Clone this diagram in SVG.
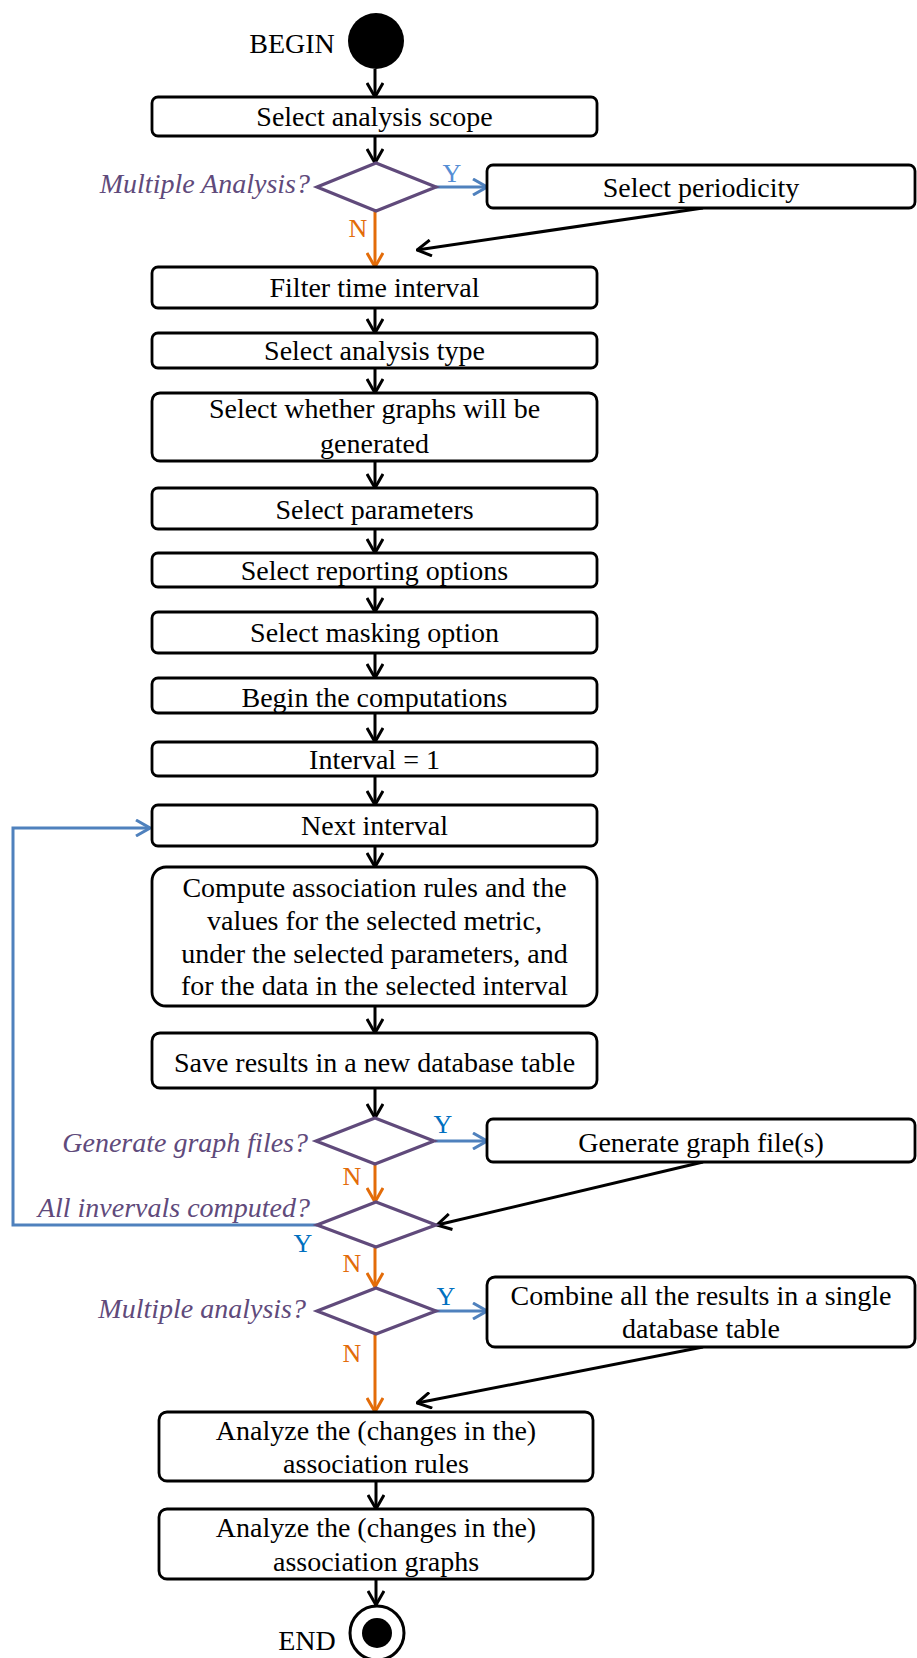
<svg xmlns="http://www.w3.org/2000/svg" width="917" height="1658" viewBox="0 0 917 1658">
<style>
.box{fill:#fff;stroke:#000;stroke-width:2.8}
.dia{fill:#fff;stroke:#604A7B;stroke-width:3.2}
.t{font-family:"Liberation Serif","Times New Roman",serif;font-size:28px;fill:#000;text-anchor:middle}
.q{font-family:"Liberation Serif","Times New Roman",serif;font-size:28px;font-style:italic;fill:#604A7B;text-anchor:end}
.yn{font-family:"Liberation Serif","Times New Roman",serif;font-size:26px;text-anchor:middle}
.blk{stroke:#000;stroke-width:3;fill:none;marker-end:url(#ak)}
.blu{stroke:#4F81BD;stroke-width:3;fill:none;marker-end:url(#ab)}
.org{stroke:#E36C09;stroke-width:3;fill:none;marker-end:url(#ao)}
</style>
<defs>
<marker id="ak" viewBox="0 0 16 18" refX="15" refY="9" markerWidth="16" markerHeight="18" markerUnits="userSpaceOnUse" orient="auto"><path d="M1,1 L15,9 L1,17" fill="none" stroke="#000" stroke-width="3"/></marker>
<marker id="ab" viewBox="0 0 16 18" refX="15" refY="9" markerWidth="16" markerHeight="18" markerUnits="userSpaceOnUse" orient="auto"><path d="M1,1 L15,9 L1,17" fill="none" stroke="#4F81BD" stroke-width="3"/></marker>
<marker id="ao" viewBox="0 0 16 18" refX="15" refY="9" markerWidth="16" markerHeight="18" markerUnits="userSpaceOnUse" orient="auto"><path d="M1,1 L15,9 L1,17" fill="none" stroke="#E36C09" stroke-width="3"/></marker>
</defs>
<rect width="917" height="1658" fill="#fff"/>

<g id="connectors">
<line class="blk" x1="375" y1="69" x2="375" y2="97"/>
<line class="blk" x1="375" y1="136" x2="375" y2="163"/>
<line class="blu" x1="436" y1="187" x2="487" y2="187"/>
<line class="org" x1="375" y1="211" x2="375" y2="267"/>
<line class="blk" x1="703" y1="208" x2="417" y2="250"/>
<line class="blk" x1="375" y1="308" x2="375" y2="333"/>
<line class="blk" x1="375" y1="368" x2="375" y2="393"/>
<line class="blk" x1="375" y1="461" x2="375" y2="488"/>
<line class="blk" x1="375" y1="529" x2="375" y2="553"/>
<line class="blk" x1="375" y1="587" x2="375" y2="612"/>
<line class="blk" x1="375" y1="653" x2="375" y2="678"/>
<line class="blk" x1="375" y1="713" x2="375" y2="742"/>
<line class="blk" x1="375" y1="776" x2="375" y2="805"/>
<line class="blk" x1="375" y1="846" x2="375" y2="867"/>
<line class="blk" x1="375" y1="1006" x2="375" y2="1033"/>
<line class="blk" x1="375" y1="1088" x2="375" y2="1118"/>
<line class="blu" x1="435" y1="1141" x2="487" y2="1141"/>
<line class="org" x1="375" y1="1164" x2="375" y2="1202"/>
<line class="blk" x1="703" y1="1162" x2="437" y2="1225"/>
<path class="blu" d="M317,1225 H13 V828 H150"/>
<line class="org" x1="375" y1="1247" x2="375" y2="1287"/>
<line class="blu" x1="435" y1="1311" x2="487" y2="1311"/>
<line class="org" x1="375" y1="1334" x2="375" y2="1412"/>
<line class="blk" x1="703" y1="1347" x2="417" y2="1403"/>
<line class="blk" x1="376" y1="1481" x2="376" y2="1509"/>
<line class="blk" x1="376" y1="1579" x2="376" y2="1605"/>
<text class="yn" x="452" y="182" fill="#558ED5">Y</text>
<text class="yn" x="358" y="237" fill="#E36C09">N</text>
<text class="yn" x="443" y="1133" fill="#0070C0">Y</text>
<text class="yn" x="352" y="1185" fill="#E36C09">N</text>
<text class="yn" x="303" y="1252" fill="#0070C0">Y</text>
<text class="yn" x="352" y="1272" fill="#E36C09">N</text>
<text class="yn" x="446" y="1305" fill="#0070C0">Y</text>
<text class="yn" x="352" y="1362" fill="#E36C09">N</text>
</g>

<g id="begin">
<circle cx="376" cy="41" r="28" fill="#000"/>
<text class="t" x="292" y="53" font-size="27">BEGIN</text>
</g>

<g id="n1"><rect class="box" x="152" y="97" width="445" height="39" rx="6"/><text class="t" x="374.5" y="126">Select analysis scope</text></g>

<g id="d1"><polygon class="dia" points="376,163 436,187 376,211 317,187"/><text class="q" x="310" y="193">Multiple Analysis?</text></g>

<g id="n_period"><rect class="box" x="487" y="165" width="428" height="43" rx="6"/><text class="t" x="701" y="197">Select periodicity</text></g>

<g id="n2"><rect class="box" x="152" y="267" width="445" height="41" rx="6"/><text class="t" x="374.5" y="297">Filter time interval</text></g>
<g id="n3"><rect class="box" x="152" y="333" width="445" height="35" rx="6"/><text class="t" x="374.5" y="360">Select analysis type</text></g>
<g id="n4"><rect class="box" x="152" y="393" width="445" height="68" rx="8"/><text class="t" x="374.5" y="418">Select whether graphs will be</text><text class="t" x="374.5" y="453">generated</text></g>
<g id="n5"><rect class="box" x="152" y="488" width="445" height="41" rx="6"/><text class="t" x="374.5" y="519">Select parameters</text></g>
<g id="n6"><rect class="box" x="152" y="553" width="445" height="34" rx="6"/><text class="t" x="374.5" y="580">Select reporting options</text></g>
<g id="n7"><rect class="box" x="152" y="612" width="445" height="41" rx="6"/><text class="t" x="374.5" y="642">Select masking option</text></g>
<g id="n8"><rect class="box" x="152" y="678" width="445" height="35" rx="6"/><text class="t" x="374.5" y="707">Begin the computations</text></g>
<g id="n9"><rect class="box" x="152" y="742" width="445" height="34" rx="6"/><text class="t" x="374.5" y="769">Interval = 1</text></g>
<g id="n10"><rect class="box" x="152" y="805" width="445" height="41" rx="6"/><text class="t" x="374.5" y="835">Next interval</text></g>
<g id="n11"><rect class="box" x="152" y="867" width="445" height="139" rx="14"/>
<text class="t" x="374.5" y="897">Compute association rules and the</text>
<text class="t" x="374.5" y="930">values for the selected metric,</text>
<text class="t" x="374.5" y="963">under the selected parameters, and</text>
<text class="t" x="374.5" y="995">for the data in the selected interval</text></g>
<g id="n12"><rect class="box" x="152" y="1033" width="445" height="55" rx="8"/><text class="t" x="374.5" y="1072">Save results in a new database table</text></g>

<g id="d2"><polygon class="dia" points="375,1118 434,1141 375,1164 316,1141"/><text class="q" x="308" y="1152">Generate graph files?</text></g>
<g id="n_gen"><rect class="box" x="487" y="1119" width="428" height="43" rx="6"/><text class="t" x="701" y="1152">Generate graph file(s)</text></g>

<g id="d3"><polygon class="dia" points="376,1202 436,1225 376,1247 317,1225"/><text class="q" x="310" y="1217">All invervals computed?</text></g>

<g id="d4"><polygon class="dia" points="376,1288 436,1311 376,1334 317,1311"/><text class="q" x="306" y="1318">Multiple analysis?</text></g>
<g id="n_comb"><rect class="box" x="487" y="1277" width="428" height="70" rx="8"/><text class="t" x="701" y="1305">Combine all the results in a single</text><text class="t" x="701" y="1338">database table</text></g>

<g id="n13"><rect class="box" x="159" y="1412" width="434" height="69" rx="8"/><text class="t" x="376" y="1440">Analyze the (changes in the)</text><text class="t" x="376" y="1473">association rules</text></g>
<g id="n14"><rect class="box" x="159" y="1509" width="434" height="70" rx="8"/><text class="t" x="376" y="1537">Analyze the (changes in the)</text><text class="t" x="376" y="1571">association graphs</text></g>

<g id="end">
<circle cx="377" cy="1633" r="27" fill="#fff" stroke="#000" stroke-width="3"/>
<circle cx="377" cy="1633" r="15" fill="#000"/>
<text class="t" x="307" y="1650" font-size="27">END</text>
</g>
</svg>
